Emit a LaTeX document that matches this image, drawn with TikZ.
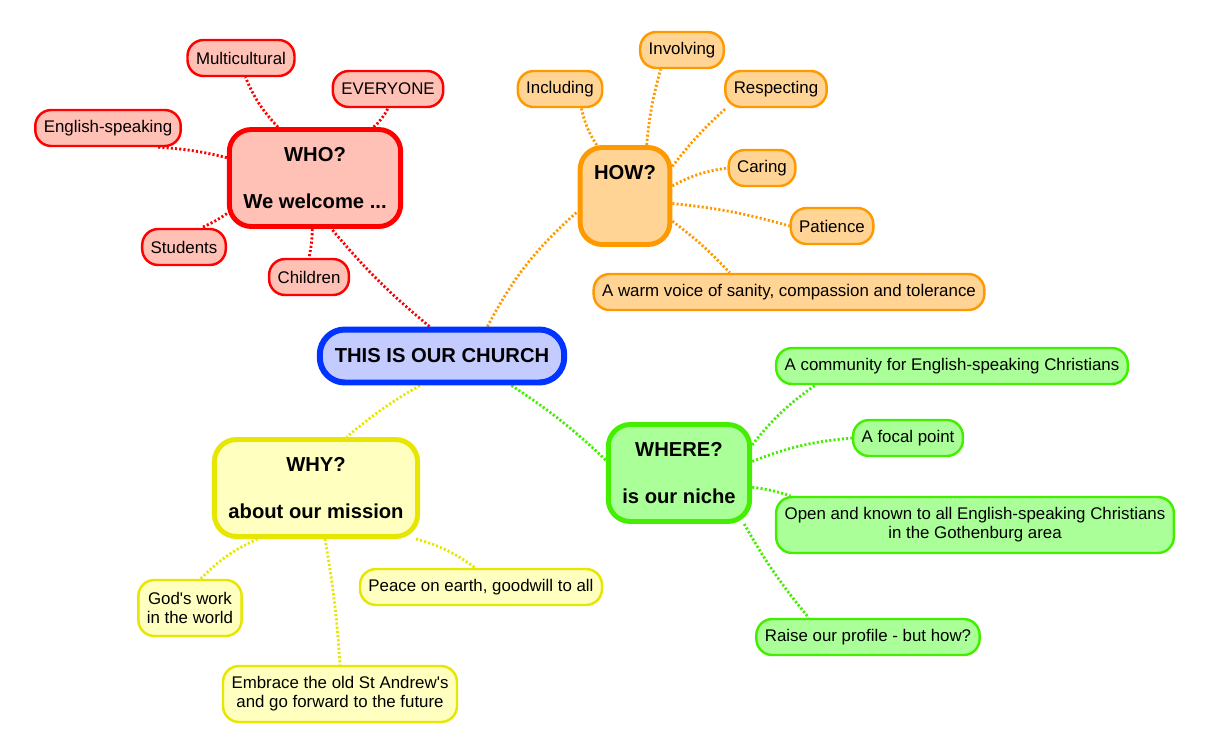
\documentclass[tikz,border=0pt]{standalone}
\usepackage{fontspec}
\setmainfont{Liberation Sans}
\usetikzlibrary{positioning, backgrounds}
\definecolor{wholine}{RGB}{255,0,0}
\definecolor{whofill}{RGB}{255,192,181}
\definecolor{howline}{RGB}{255,153,0}
\definecolor{howfill}{RGB}{255,212,148}
\definecolor{mainline}{RGB}{0,51,255}
\definecolor{mainfill}{RGB}{196,204,255}
\definecolor{whereline}{RGB}{68,238,0}
\definecolor{wherefill}{RGB}{170,255,153}
\definecolor{whyline}{RGB}{230,230,0}
\definecolor{whyfill}{RGB}{255,255,191}

\begin{document}
\begin{tikzpicture}[x=0.02cm, y=-0.02cm,
    leaf/.style={draw=#1line, fill=#1fill, line width=1.4pt, rounded corners=0.32cm,
        inner xsep=0.17cm, minimum height=0.72cm, align=center,
        font=\fontsize{9.6}{10.8}\selectfont},
    topic/.style={draw=#1line, fill=#1fill, line width=2.8pt, rounded corners=0.44cm,
        inner xsep=0.28cm, minimum height=1.94cm, align=center,
        font=\bfseries\fontsize{11.5}{13.3}\selectfont},
    hub/.style={draw=mainline, fill=mainfill, line width=3.4pt, rounded corners=0.5cm,
        inner xsep=0.3cm, minimum height=1.06cm,
        font=\bfseries\fontsize{11.5}{13.3}\selectfont},
    link/.style={draw=#1line, line width=1.6pt, dash pattern=on 1.2pt off 1.2pt}]
    \useasboundingbox (0,0) rectangle (1211,755);
    % Centro
    \node[hub] (church) at (442,356) {THIS IS OUR CHURCH};
    % WHO
    \node[topic=who] (who) at (315,178) {WHO?\\[13.3pt]We welcome ...};
    \node[leaf=who] (multi) at (241,58) {Multicultural};
    \node[leaf=who] (everyone) at (388,89) {EVERYONE};
    \node[leaf=who] (english) at (108,128) {English-speaking};
    \node[leaf=who] (students) at (184,247) {Students};
    \node[leaf=who] (children) at (309,277) {Children};
    % HOW
    \node[topic=how] (how) at (625,196) {HOW?\\[13.3pt]\mbox{}};
    \node[leaf=how] (including) at (560,89) {Including};
    \node[leaf=how] (involving) at (682,50) {Involving};
    \node[leaf=how] (respecting) at (776,89) {Respecting};
    \node[leaf=how] (caring) at (762,168) {Caring};
    \node[leaf=how] (patience) at (832,226) {Patience};
    \node[leaf=how] (voice) at (789,292) {A warm voice of sanity, compassion and tolerance};
    % WHERE
    \node[topic=where] (where) at (679,473) {WHERE?\\[13.3pt]is our niche};
    \node[leaf=where] (community) at (952,366) {A community for English-speaking Christians};
    \node[leaf=where] (focal) at (908,438) {A focal point};
    \node[leaf=where, minimum height=1.12cm] (open) at (975,525) {Open and known to all English-speaking Christians\\in the Gothenburg area};
    \node[leaf=where] (profile) at (868,637) {Raise our profile - but how?};
    % WHY
    \node[topic=why] (why) at (316,488) {WHY?\\[13.3pt]about our mission};
    \node[leaf=why, minimum height=1.12cm] (godswork) at (190,608) {God\textquotesingle s work\\in the world};
    \node[leaf=why] (peace) at (481,587) {Peace on earth, goodwill to all};
    \node[leaf=why, minimum height=1.12cm] (embrace) at (340,694) {Embrace the old St Andrew\textquotesingle s\\and go forward to the future};
    % Ligações
    \begin{scope}[on background layer]
        \draw[link=who] (church.113) to[bend left=5] (who.-72);
        \draw[link=how] (church.33) to[bend left=10] (how.198);
        \draw[link=why] (church.233) to[bend right=5] (why.59);
        \draw[link=where] (church.-23) to[bend left=5] (where.170);
        \draw[link=who] (who.126) to[bend left=10] (multi.-77);
        \draw[link=who] (who.41) to[bend right=10] (everyone.south);
        \draw[link=who] (who.167) to[bend right=5] (english.-21);
        \draw[link=who] (who.202) to[bend left=5] (students.48);
        \draw[link=who] (who.-93) to[bend left=5] (children.north);
        \draw[link=how] (how.119) to[bend left=10] (including.-42);
        \draw[link=how] (how.67) to[bend left=5] (involving.222);
        \draw[link=how] (how.32) to[bend left=5] (respecting.201);
        \draw[link=how] (how.12) to[bend left=10] (caring.west);
        \draw[link=how] (how.-9) to[bend left=5] (patience.west);
        \draw[link=how] (how.-28) to[bend left=5] (voice.162);
        \draw[link=where] (where.21) to[bend left=8] (community.188);
        \draw[link=where] (where.9) to[bend left=8] (focal.west);
        \draw[link=where] (where.-11) to[bend left=5] (open.171);
        \draw[link=where] (where.-38) to[bend right=5] (profile.162);
        \draw[link=why] (why.221) to[bend right=10] (godswork.70);
        \draw[link=why] (why.-27) to[bend left=10] (peace.107);
        \draw[link=why] (why.-80) to[bend left=3] (embrace.north);
    \end{scope}
\end{tikzpicture}
\end{document}
